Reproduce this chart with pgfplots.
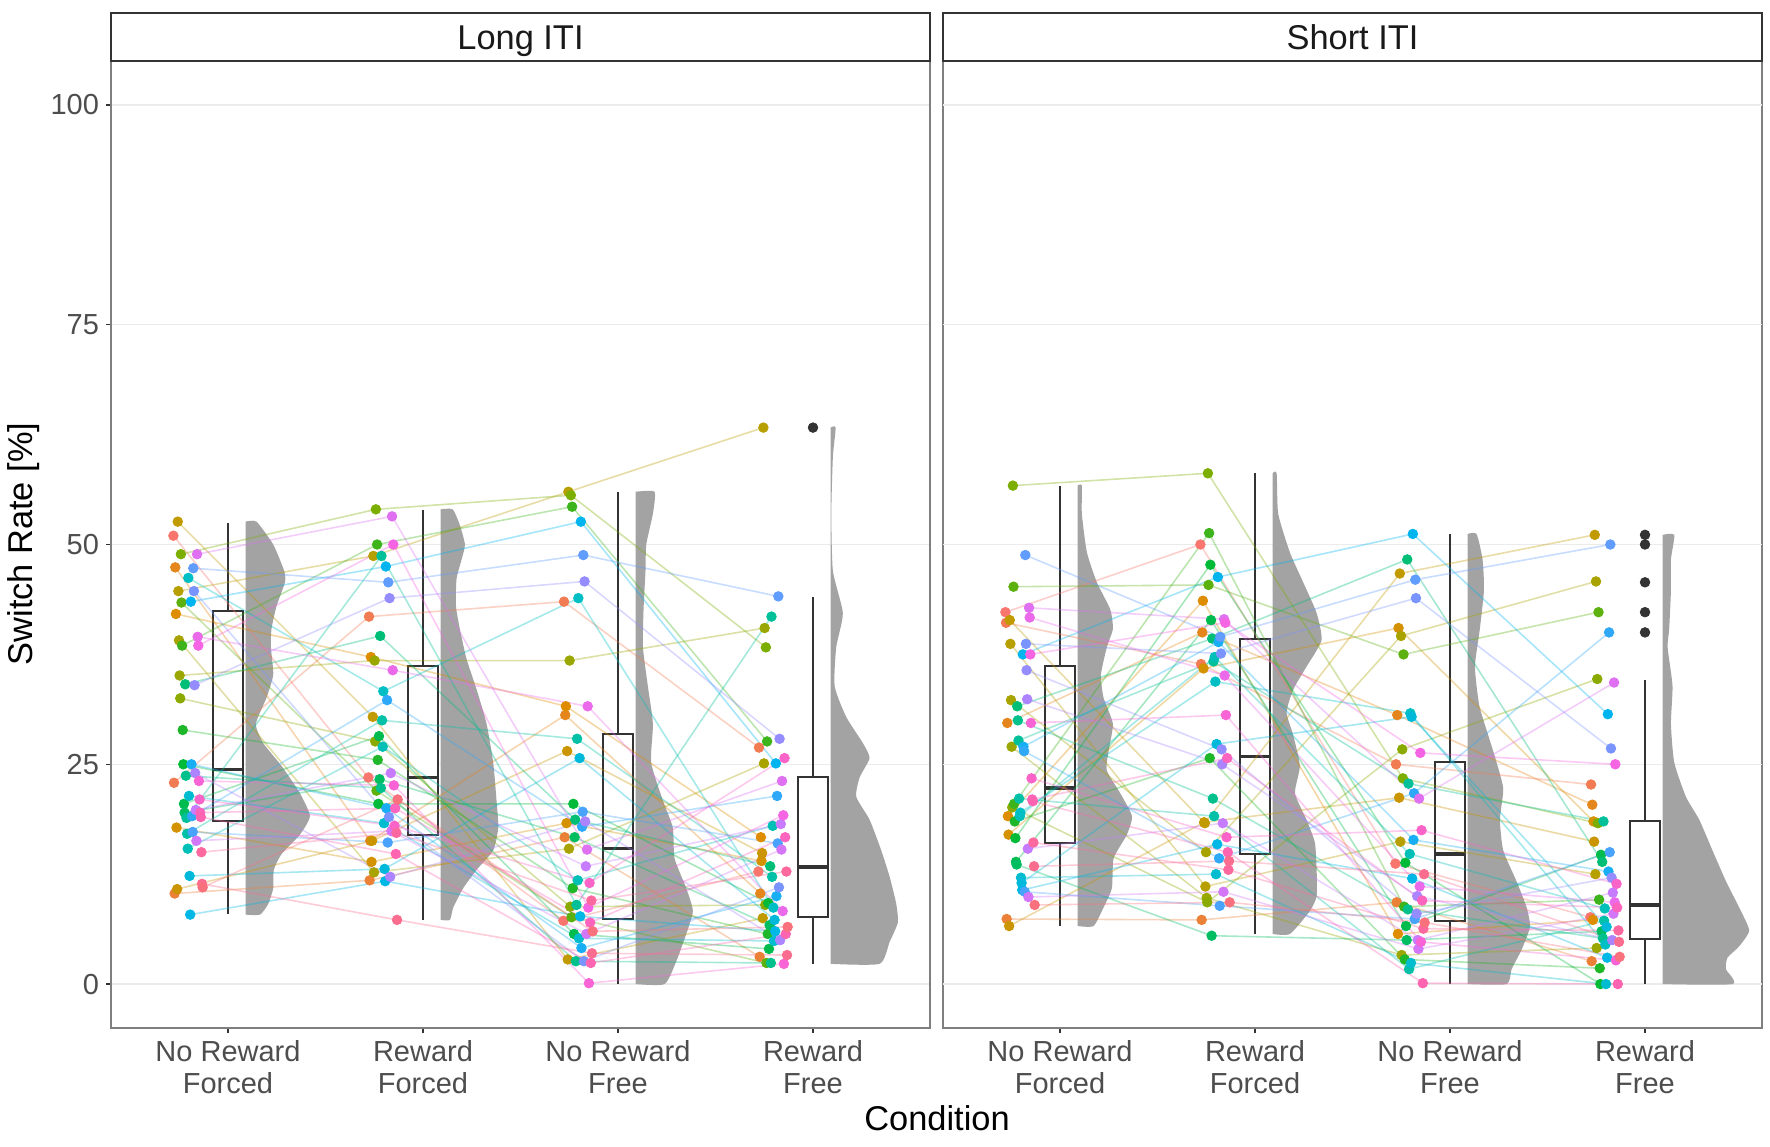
\documentclass[border=0pt]{standalone}
\usepackage{pgfplots}
\pgfplotsset{compat=1.18}
\usepackage{pgfplotstable}
\usepgfplotslibrary{statistics}
\usepackage{fontspec}
\setmainfont{Liberation Sans}

\definecolor{pal0}{HTML}{F8766D}
\definecolor{pal1}{HTML}{DE8C00}
\definecolor{pal2}{HTML}{B79F00}
\definecolor{pal3}{HTML}{7CAE00}
\definecolor{pal4}{HTML}{00BA38}
\definecolor{pal5}{HTML}{00C08B}
\definecolor{pal6}{HTML}{00BFC4}
\definecolor{pal7}{HTML}{00B4F0}
\definecolor{pal8}{HTML}{619CFF}
\definecolor{pal9}{HTML}{C77CFF}
\definecolor{pal10}{HTML}{F564E3}
\definecolor{pal11}{HTML}{FF64B0}
\pgfplotsforeachungrouped \i in {0,...,47}{%
  \pgfmathtruncatemacro\kk{floor(\i/4)}%
  \pgfmathtruncatemacro\kn{mod(\kk+1,12)}%
  \pgfmathtruncatemacro\pct{100-25*mod(\i,4)}%
  \colorlet{pc\i}{pal\kk!\pct!pal\kn}%
}
\definecolor{gridc}{HTML}{EBEBEB}
\definecolor{bordc}{HTML}{7F7F7F}
\definecolor{tickc}{HTML}{333333}
\definecolor{tickl}{HTML}{4D4D4D}
\definecolor{boxc}{HTML}{333333}
\definecolor{vfill}{HTML}{A3A3A3}
\definecolor{stripc}{HTML}{333333}

\newcommand{\tickfont}{\fontsize{14.5}{16}\selectfont}
\newcommand{\titlefont}{\fontsize{17.2}{19}\selectfont}

% participant data: one row per participant, columns = conditions
\pgfplotstableread{
id c1 c2 c3 c4
p0 51.0 23.5 7.2 12.8
p1 22.9 41.8 43.5 26.9
p2 10.3 11.8 16.7 3.1
p3 47.4 16.3 30.6 10.3
p4 42.1 37.2 31.6 16.7
p5 17.8 13.9 18.3 14.0
p6 10.8 16.3 26.5 14.9
p7 52.6 30.4 2.8 7.5
p8 44.7 48.7 56.0 63.3
p9 39.1 12.7 15.4 25.1
p10 35.1 36.8 36.8 40.5
p11 32.5 27.6 8.8 9.0
p12 48.9 54.0 55.6 38.3
p13 43.4 22.0 7.6 2.4
p14 38.5 50.0 54.3 27.6
p15 28.9 25.5 10.9 5.7
p16 25.0 20.5 20.5 9.2
p17 20.5 28.2 5.7 4.0
p18 19.5 23.3 16.7 6.7
p19 34.1 39.6 18.7 13.4
p20 23.7 22.3 2.6 2.4
p21 18.9 48.7 9.0 41.8
p22 17.1 30.0 27.9 12.2
p23 15.4 27.0 11.8 18.0
p24 46.2 33.3 43.9 8.7
p25 21.4 18.3 5.2 4.9
p26 12.3 13.1 25.7 7.3
p27 7.9 11.7 7.7 6.0
p28 43.5 47.5 52.6 25.1
p29 25.0 20.0 4.1 10.0
p30 19.1 32.3 17.9 21.4
p31 17.3 16.1 19.6 16.0
p32 47.3 45.7 48.8 44.1
p33 44.7 19.0 2.6 11.0
p34 34.0 43.9 45.8 27.9
p35 24.0 12.2 18.5 5.0
p36 19.8 24.0 13.4 18.2
p37 16.3 17.4 5.7 15.3
p38 48.9 53.2 15.3 23.1
p39 39.5 35.7 31.6 8.3
p40 38.5 50.0 8.7 19.2
p41 23.1 22.6 0.1 2.3
p42 21.0 18.0 11.5 25.7
p43 19.5 20.0 7.0 16.7
p44 19.0 14.8 2.4 5.7
p45 15.0 17.2 9.5 12.8
p46 11.4 7.3 3.5 3.3
p47 11.0 21.0 6.0 6.5
}\longraw
\pgfplotstableread{
id c1 c2 c3 c4
p0 42.3 50.0 13.7 7.6
p1 41.1 36.4 25.0 22.7
p2 7.4 7.3 9.3 2.6
p3 29.7 40.0 30.6 20.4
p4 19.1 43.6 5.7 7.3
p5 17.0 35.9 40.5 18.5
p6 6.6 18.4 21.2 16.2
p7 41.4 18.3 46.7 51.1
p8 38.7 11.1 16.2 12.5
p9 32.3 15.0 39.6 45.8
p10 27.0 9.8 3.3 4.1
p11 20.1 9.3 26.7 34.7
p12 56.7 58.1 23.4 18.3
p13 45.2 45.4 37.5 42.3
p14 20.5 51.3 8.8 9.6
p15 18.5 25.7 2.8 1.8
p16 16.6 47.7 13.8 0
p17 13.9 41.4 6.6 14.7
p18 13.6 5.5 5.0 6.0
p19 31.6 39.3 48.3 13.9
p20 30.0 21.1 8.5 5.2
p21 27.7 36.7 22.8 18.5
p22 21.1 19.1 1.7 7.2
p23 19.1 37.2 14.8 8.6
p24 19.5 34.4 30.8 4.5
p25 12.1 12.5 2.4 0
p26 11.5 27.3 30.4 6.5
p27 10.7 15.9 12.0 3.0
p28 37.5 46.3 51.2 30.7
p29 27.0 38.9 16.4 12.8
p30 26.5 14.3 21.7 40.0
p31 10.5 8.9 7.4 15.0
p32 48.8 39.5 46.0 50.0
p33 38.7 37.6 43.9 26.8
p34 35.7 26.7 8.0 12.1
p35 32.4 25.0 10.0 5.0
p36 15.4 18.3 5.0 10.4
p37 9.9 10.5 4.0 8.0
p38 42.8 41.5 21.1 34.3
p39 41.7 35.1 11.1 9.3
p40 37.5 41.1 26.3 25.0
p41 29.7 30.6 4.8 2.7
p42 23.4 16.7 17.5 11.4
p43 21.0 25.7 9.5 8.7
p44 20.8 15.0 0.1 0
p45 16.1 13.0 6.3 6.1
p46 13.4 14.0 12.5 4.8
p47 9.0 9.3 7.0 3.1
}\shortraw
\pgfplotstabletranspose[colnames from=id]{\longT}{\longraw}
\pgfplotstabletranspose[colnames from=id]{\shortT}{\shortraw}

% half-violin outlines: y, width (x units)
\pgfplotstableread{
y w
7.9 0
7.9 0.074
9.1 0.116
10.9 0.142
13.0 0.145
14.8 0.185
17.0 0.279
19.1 0.330
21.7 0.279
24.8 0.185
27.4 0.091
29.6 0.053
32.6 0.108
35.2 0.142
38.3 0.130
40.4 0.133
43.0 0.159
45.7 0.202
47.0 0.198
50.0 0.142
52.6 0.056
52.6 0
}\vLa
\pgfplotstableread{
y w
7.3 0
7.3 0.048
8.7 0.065
10.9 0.116
13.0 0.185
15.2 0.270
17.8 0.296
20.9 0.287
25.2 0.270
29.6 0.236
33.5 0.185
37.0 0.133
40.4 0.099
43.0 0.079
46.1 0.082
48.3 0.108
50.0 0.125
52.2 0.099
54.0 0.062
54.0 0
}\vLb
\pgfplotstableread{
y w
0 0
0 0.149
2.6 0.209
5.7 0.260
8.3 0.294
10.9 0.260
14.3 0.200
17.8 0.191
20.9 0.140
25.2 0.080
29.6 0.089
33.9 0.063
38.3 0.038
42.6 0.041
47.0 0.051
50.0 0.055
53.5 0.089
56.0 0.097
56.0 0
}\vLc
\pgfplotstableread{
y w
2.3 0
2.3 0.251
4.8 0.303
7.0 0.345
9.1 0.337
12.2 0.303
15.2 0.260
18.7 0.200
21.3 0.132
23.5 0.149
25.7 0.200
27.4 0.166
30.4 0.080
33.9 0.021
38.3 0.029
42.2 0.063
47.0 0.012
53.5 0.004
60.0 0.012
63.3 0.026
63.3 0
}\vLd
\pgfplotstableread{
y w
6.6 0
6.6 0.082
8.7 0.133
10.9 0.176
14.3 0.185
17.0 0.253
19.1 0.279
21.7 0.219
24.3 0.150
26.5 0.159
29.6 0.181
32.6 0.133
35.2 0.120
38.3 0.150
40.4 0.181
42.6 0.168
45.7 0.099
49.1 0.048
53.5 0.022
56.7 0.022
56.7 0
}\vSa
\pgfplotstableread{
y w
5.7 0
5.7 0.089
8.3 0.191
10.0 0.226
13.0 0.226
16.1 0.217
18.7 0.174
21.7 0.115
24.8 0.140
28.3 0.106
30.9 0.072
33.5 0.106
36.1 0.174
39.1 0.251
42.2 0.226
45.7 0.157
49.1 0.089
53.5 0.029
58.1 0.021
58.1 0
}\vSb
\pgfplotstableread{
y w
0 0
0 0.200
1.7 0.226
3.9 0.277
6.5 0.320
8.7 0.303
11.7 0.251
15.2 0.183
18.7 0.166
22.2 0.183
25.2 0.149
28.3 0.106
31.7 0.060
36.1 0.038
40.4 0.063
44.8 0.084
48.3 0.077
51.2 0.046
51.2 0
}\vSc
\pgfplotstableread{
y w
0 0
0 0.359
1.7 0.325
3.0 0.333
4.3 0.393
6.1 0.444
8.7 0.393
11.7 0.325
15.2 0.256
18.7 0.188
21.3 0.120
25.2 0.060
29.6 0.043
33.9 0.051
38.3 0.026
40.4 0.034
44.8 0.043
48.3 0.043
51.1 0.060
51.1 0
}\vSd

\pgfplotsset{
  facet/.style={
    width=409.5pt, height=483.5pt, scale only axis,
    xmin=0.4, xmax=4.6, ymin=-5, ymax=105,
    xtick={1,2,3,4},
    xticklabels={{No Reward\\Forced},{Reward\\Forced},{No Reward\\Free},{Reward\\Free}},
    xtick pos=left, ytick pos=left,
    tick align=outside, major tick length=2.5pt,
    tick style={color=tickc, line width=0.6pt},
    axis line style={color=bordc, line width=0.6pt},
    grid style={color=gridc, line width=0.6pt},
    xticklabel style={font=\tickfont, text=tickl, align=center},
    yticklabel style={font=\tickfont, text=tickl},
    /pgf/number format/assume math mode=true,
    boxplot/draw direction=y,
    boxplot/every median/.style={line width=1.7pt},
  },
  vio/.style={fill=vfill, draw=none, smooth, tension=0.35},
  bx/.style={boxc, line width=1pt, fill=white, solid},
}

\newcommand{\participants}[1]{%
  \pgfplotsinvokeforeach{0,...,47}{%
    \addplot[pc##1, opacity=0.35, line width=0.8pt, no markers]
      table[x expr={\coordindex+1-0.28+0.15*##1/47}, y=p##1]{#1};
  }%
  \pgfplotsinvokeforeach{0,...,47}{%
    \addplot[pc##1, only marks, mark=*, mark size=2.4pt]
      table[x expr={\coordindex+1-0.28+0.15*##1/47}, y=p##1]{#1};
  }%
}

\begin{document}
\begin{tikzpicture}
\useasboundingbox (0,0) rectangle (885pt,-573pt);

% ---------------- Long ITI ----------------
\begin{axis}[facet, name=L, at={(55.5pt,-514pt)}, anchor=south west,
  ytick={0,25,50,75,100}, ymajorgrids]
\addplot[vio] table[x expr=1.09+\thisrow{w}, y=y]{\vLa};
\addplot[vio] table[x expr=2.09+\thisrow{w}, y=y]{\vLb};
\addplot[vio] table[x expr=3.09+\thisrow{w}, y=y]{\vLc};
\addplot[vio] table[x expr=4.09+\thisrow{w}, y=y]{\vLd};
\addplot[bx, boxplot prepared={draw position=1, lower whisker=8.0, lower quartile=18.6, median=24.4, upper quartile=42.4, upper whisker=52.5, box extend=0.15, whisker extend=0}] coordinates {};
\addplot[bx, boxplot prepared={draw position=2, lower whisker=7.3, lower quartile=17.0, median=23.5, upper quartile=36.2, upper whisker=53.9, box extend=0.15, whisker extend=0}] coordinates {};
\addplot[bx, boxplot prepared={draw position=3, lower whisker=0, lower quartile=7.4, median=15.4, upper quartile=28.5, upper whisker=56.0, box extend=0.15, whisker extend=0}] coordinates {};
\addplot[bx, boxplot prepared={draw position=4, lower whisker=2.3, lower quartile=7.6, median=13.3, upper quartile=23.5, upper whisker=44.0, box extend=0.15, whisker extend=0}] coordinates {};
\participants{\longT}
\addplot[boxc, only marks, mark=*, mark size=2.4pt] coordinates {(4,63.3)};
\end{axis}

% ---------------- Short ITI ----------------
\begin{axis}[facet, name=R, at={(471.5pt,-514pt)}, anchor=south west,
  ytick=\empty]
\draw[gridc, line width=0.6pt] (axis cs:0.4,0) -- (axis cs:4.6,0);
\draw[gridc, line width=0.6pt] (axis cs:0.4,25) -- (axis cs:4.6,25);
\draw[gridc, line width=0.6pt] (axis cs:0.4,50) -- (axis cs:4.6,50);
\draw[gridc, line width=0.6pt] (axis cs:0.4,75) -- (axis cs:4.6,75);
\draw[gridc, line width=0.6pt] (axis cs:0.4,100) -- (axis cs:4.6,100);
\addplot[vio] table[x expr=1.09+\thisrow{w}, y=y]{\vSa};
\addplot[vio] table[x expr=2.09+\thisrow{w}, y=y]{\vSb};
\addplot[vio] table[x expr=3.09+\thisrow{w}, y=y]{\vSc};
\addplot[vio] table[x expr=4.09+\thisrow{w}, y=y]{\vSd};
\addplot[bx, boxplot prepared={draw position=1, lower whisker=6.6, lower quartile=16.1, median=22.3, upper quartile=36.2, upper whisker=56.7, box extend=0.15, whisker extend=0}] coordinates {};
\addplot[bx, boxplot prepared={draw position=2, lower whisker=5.7, lower quartile=14.8, median=25.9, upper quartile=39.2, upper whisker=58.1, box extend=0.15, whisker extend=0}] coordinates {};
\addplot[bx, boxplot prepared={draw position=3, lower whisker=0, lower quartile=7.2, median=14.8, upper quartile=25.3, upper whisker=51.2, box extend=0.15, whisker extend=0}] coordinates {};
\addplot[bx, boxplot prepared={draw position=4, lower whisker=0, lower quartile=5.1, median=9.0, upper quartile=18.5, upper whisker=34.6, box extend=0.15, whisker extend=0}] coordinates {};
\participants{\shortT}
\addplot[boxc, only marks, mark=*, mark size=2.4pt] coordinates {(4,51.1) (4,50.0) (4,45.7) (4,42.3) (4,40.0)};
\end{axis}

% strips
\draw[stripc, line width=0.9pt, fill=white] (L.north west) rectangle ([yshift=24pt]L.north east);
\draw[stripc, line width=0.9pt, fill=white] (R.north west) rectangle ([yshift=24pt]R.north east);
\node[font=\titlefont, text=black!90, anchor=base] at ([yshift=6pt]L.north) {Long ITI};
\node[font=\titlefont, text=black!90, anchor=base] at ([yshift=6pt]R.north) {Short ITI};

% axis titles
\node[font=\titlefont, rotate=90, anchor=center] at (12pt,-272pt) {Switch Rate [\%]};
\node[font=\titlefont, anchor=base] at (468.5pt,-565pt) {Condition};
\end{tikzpicture}
\end{document}
